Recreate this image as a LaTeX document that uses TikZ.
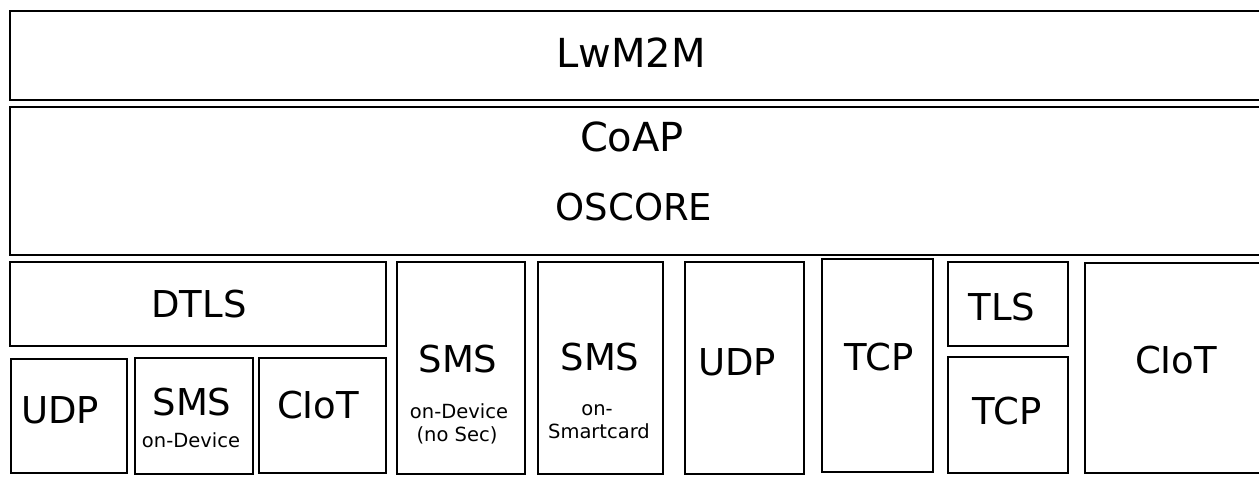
\documentclass[tikz,border=0pt]{standalone}
\usepackage{fontspec}
\setmainfont{DejaVu Sans}

\tikzset{
	layer/.style={draw, line width=2.3pt},
	toplayer/.style={draw, line width=2.9pt},
	big/.style={anchor=base, inner sep=0pt, font=\fontsize{37}{44}\selectfont},
	bigger/.style={big, font=\fontsize{40}{48}\selectfont},
	small/.style={anchor=base, inner sep=0pt, font=\fontsize{19.5}{23}\selectfont},
}

\begin{document}
\begin{tikzpicture}[x=1pt,y=-1pt]
		\useasboundingbox (0,0) rectangle (1259,477);

		% application and transfer layers
		\draw[toplayer] (10,11) rectangle (1268,100);
		\draw[toplayer] (10,107) rectangle (1268,255);
		\node[bigger] (lwm2m) at (631,67) {LwM2M};
		\node[bigger] (coap) at (632,151) {CoAP};
		\node[big] (oscore) at (634,220) {OSCORE};

		% security over transports
		\draw[layer] (10,262) rectangle (386,346);
		\node[big] (dtls) at (199,317) {DTLS};

		\draw[layer] (11,359) rectangle (127,473);
		\draw[layer] (135,358) rectangle (253,474);
		\draw[layer] (259,358) rectangle (386,473);
		\node[big] (udpA) at (60,423) {UDP};
		\node[big] (smsA) at (192,415) {SMS};
		\node[small] (smsAdev) at (191,447) {on-Device};
		\node[big] (ciotA) at (318,418) {CIoT};

		% transports without DTLS
		\draw[layer] (397,262) rectangle (525,474);
		\draw[layer] (538,262) rectangle (663,474);
		\draw[layer] (685,262) rectangle (804,474);
		\draw[layer] (822,259) rectangle (933,472);
		\node[big] (smsB) at (458,372) {SMS};
		\node[small] (smsBdev) at (459,418) {on-Device};
		\node[small] (smsBsec) at (457,441) {(no Sec)};
		\node[big] (smsC) at (600,370) {SMS};
		\node[small] (smsCon) at (597,415) {on-};
		\node[small] (smsCcard) at (599,438) {Smartcard};
		\node[big] (udpB) at (737,375) {UDP};
		\node[big] (tcpA) at (879,370) {TCP};

		% TLS over TCP
		\draw[layer] (948,262) rectangle (1068,346);
		\draw[layer] (948,357) rectangle (1068,473);
		\node[big] (tls) at (1002,320) {TLS};
		\node[big] (tcpB) at (1007,424) {TCP};

		\draw[layer] (1085,263) rectangle (1268,473);
		\node[big] (ciotB) at (1176,373) {CIoT};
	\end{tikzpicture}
\end{document}
